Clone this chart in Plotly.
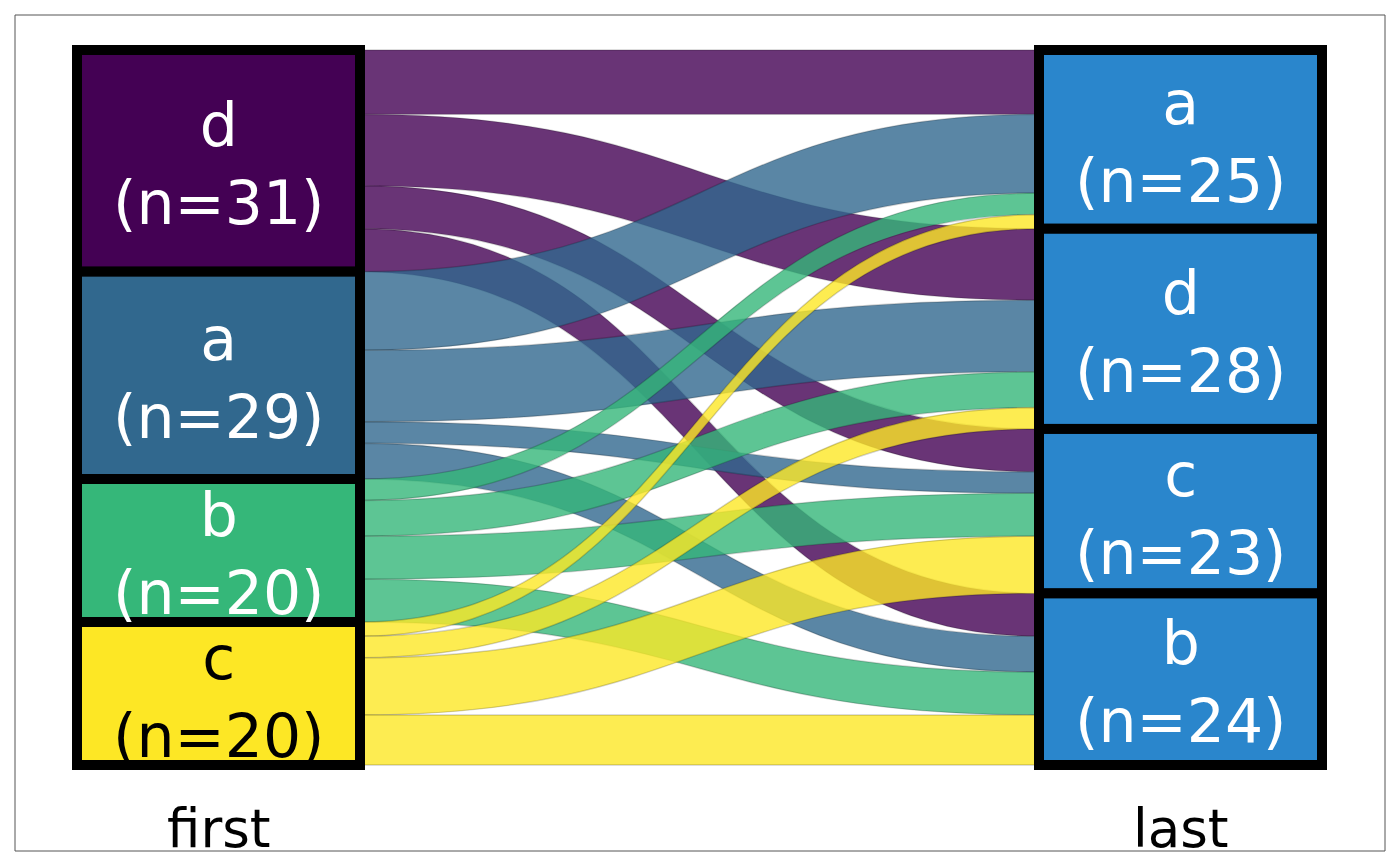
import plotly.graph_objects as go

# ---------------- data ----------------
left_labels = ["d", "a", "b", "c"]
right_labels = ["a", "d", "c", "b"]
# flows[i][j]: from left_labels[i] to right_labels[j]
flows = [
    [9, 10, 6, 6],   # d
    [11, 10, 3, 5],  # a
    [3, 5, 6, 6],    # b
    [2, 3, 8, 7],    # c
]
axis_labels = ["first", "last"]

left_colors = {"d": "68,1,84", "a": "49,104,142", "b": "53,183,121", "c": "253,231,37"}
left_text_colors = {"d": "white", "a": "white", "b": "white", "c": "black"}
right_color = "42,134,204"

# ---------------- geometry (pixels) ----------------
W, H = 1400, 866
X0, X1 = 77, 1322      # sankey horizontal extent
Y0, Y1 = 50, 765       # sankey vertical extent
THICK = 283
FONT = "DejaVu Sans"

dom_w = X1 - X0
dom_h = Y1 - Y0
left_cx = (THICK / 2) / dom_w
right_cx = 1 - (THICK / 2) / dom_w

left_tot = [sum(r) for r in flows]
right_tot = [sum(flows[i][j] for i in range(len(flows))) for j in range(len(right_labels))]
total = sum(left_tot)

def centers(vals):
    out, cum = [], 0
    for v in vals:
        out.append((cum + v / 2) / total)
        cum += v
    return out

lc = centers(left_tot)
rc = centers(right_tot)

nl = len(left_labels)
node_x = [left_cx] * nl + [right_cx] * len(right_labels)
node_y = lc + rc
node_colors = [f"rgb({left_colors[l]})" for l in left_labels] + [f"rgb({right_color})"] * len(right_labels)

src, tgt, val, lcol = [], [], [], []
for i, l in enumerate(left_labels):
    for j, r in enumerate(right_labels):
        if flows[i][j] > 0:
            src.append(i)
            tgt.append(nl + j)
            val.append(flows[i][j])
            lcol.append(f"rgba({left_colors[l]},0.8)")

fig = go.Figure(go.Sankey(
    arrangement="fixed",
    domain=dict(x=[X0 / W, X1 / W], y=[1 - Y1 / H, 1 - Y0 / H]),
    node=dict(
        label=[""] * (nl + len(right_labels)),
        x=node_x, y=node_y,
        pad=0, thickness=THICK,
        color=node_colors,
        line=dict(color="black", width=10),
        hoverinfo="none",
    ),
    link=dict(source=src, target=tgt, value=val, color=lcol,
              line=dict(color="rgba(0,0,0,0.18)", width=1.4), hoverinfo="none"),
))

annotations = []
for i, l in enumerate(left_labels):
    annotations.append(dict(
        x=(X0 + THICK / 2) / W, y=1 - (Y0 + lc[i] * dom_h + 3) / H,
        xref="paper", yref="paper", showarrow=False,
        text=f"{l}<br>(n={left_tot[i]})",
        font=dict(family=FONT, size=60, color=left_text_colors[l]),
        xanchor="center", yanchor="middle"))
for j, r in enumerate(right_labels):
    annotations.append(dict(
        x=(X1 - THICK / 2) / W, y=1 - (Y0 + rc[j] * dom_h + 3) / H,
        xref="paper", yref="paper", showarrow=False,
        text=f"{r}<br>(n={right_tot[j]})",
        font=dict(family=FONT, size=60, color="white"),
        xanchor="center", yanchor="middle"))
for k, txt in enumerate(axis_labels):
    xc = (X0 + THICK / 2) if k == 0 else (X1 - THICK / 2)
    annotations.append(dict(
        x=xc / W, y=1 - 828 / H, xref="paper", yref="paper", showarrow=False,
        text=txt, font=dict(family=FONT, size=53, color="black"),
        xanchor="center", yanchor="middle"))

fig.update_layout(
    width=W, height=H,
    margin=dict(l=0, r=0, t=0, b=0),
    paper_bgcolor="white", plot_bgcolor="white",
    annotations=annotations,
    shapes=[dict(type="rect", xref="paper", yref="paper",
                 x0=15 / W, x1=1385 / W, y0=1 - 851 / H, y1=1 - 15 / H,
                 line=dict(color="#555555", width=1), layer="below")],
)

fig.write_html("out.html",
               config={"displayModeBar": False},
               post_script="document.body.style.margin='0';document.body.style.overflow='hidden';")
